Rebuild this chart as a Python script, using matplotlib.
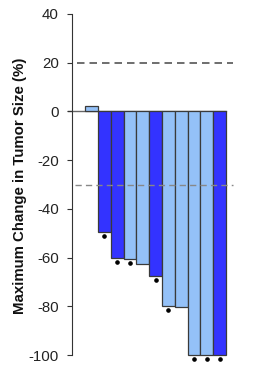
import matplotlib
matplotlib.use("Agg")
import matplotlib.pyplot as plt
import numpy as np

# max change in tumor size per patient (%), waterfall order
change = [2.3, -49.5, -60.0, -60.5, -62.8, -67.6, -79.8, -80.4, -100.0, -100.0, -100.0]
# 1 = dark blue group, 0 = light blue group
group = [0, 1, 1, 0, 0, 1, 0, 0, 0, 0, 1]
# bars that carry a dot under them
marked = [0, 1, 1, 1, 0, 1, 1, 0, 1, 1, 1]
yticks = [40, 20, 0, -20, -40, -60, -80, -100]
ref_lines = [20, -30]

plt.rcParams['font.family'] = ['Liberation Sans', 'DejaVu Sans']

fig = plt.figure(figsize=(2.63, 3.75), dpi=100)
ax = fig.add_axes([0.274, 0.0533, 0.639, 0.9094])

x = np.arange(len(change))
colors = ['#3333ff' if g else '#94c1f8' for g in group]

# zero line behind the bars
ax.plot([-1.84, 10.5], [0, 0], color='#666666', lw=1.0, zorder=1, clip_on=False)

ax.bar(x, change, width=1.0, color=colors, edgecolor='#3a3a3a', linewidth=0.9,
       zorder=2, clip_on=False)

# dashed reference lines
ax.plot([-1.13, 11.05], [ref_lines[0]] * 2, ls=(0, (4.5, 3)), color='#555555', lw=1.2, zorder=3)
ax.plot([-1.29, 11.05], [ref_lines[1]] * 2, ls=(0, (4.5, 3)), color='#888888', lw=1.0, zorder=3)

# dots below marked bars
for xi, v, m in zip(x, change, marked):
    if m:
        ax.plot(xi, v - 1.7, 'o', color='black', ms=2.3, zorder=4, clip_on=False)

ax.set_xlim(-1.523, 11.6)
ax.set_ylim(-100, 40)
ax.set_yticks(yticks)
ax.set_yticklabels([str(t) for t in yticks], fontsize=10.8, color='#222222')
ax.tick_params(axis='y', length=3.5, width=0.8, pad=6, color='#333333')
ax.set_xticks([])
for side in ['top', 'right', 'bottom']:
    ax.spines[side].set_visible(False)
ax.spines['left'].set_linewidth(0.8)
ax.spines['left'].set_color('#333333')

ax.set_ylabel('Maximum Change in Tumor Size (%)', fontsize=10.8, fontweight='bold',
              color='#111111')
ax.yaxis.set_label_coords(-0.27, 0.495)

fig.savefig('out.png', dpi=100)
